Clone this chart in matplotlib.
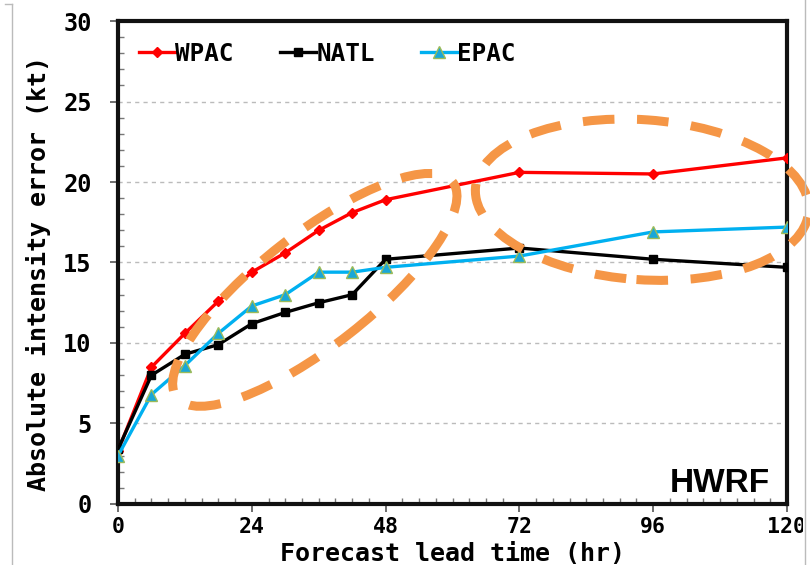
import matplotlib
matplotlib.use("Agg")
import matplotlib.pyplot as plt
from matplotlib.patches import Ellipse
from matplotlib.transforms import ScaledTranslation, Bbox
from matplotlib.ticker import MultipleLocator

# Forecast lead times (hr) and mean absolute intensity errors (kt)
lead_time = [0, 6, 12, 18, 24, 30, 36, 42, 48, 72, 96, 120]
wpac = [3.3, 8.5, 10.6, 12.6, 14.4, 15.6, 17.0, 18.1, 18.9, 20.6, 20.5, 21.5]
natl = [3.4, 8.0, 9.3, 9.9, 11.2, 11.9, 12.5, 13.0, 15.2, 15.9, 15.2, 14.7]
epac = [3.0, 6.8, 8.6, 10.6, 12.3, 13.0, 14.4, 14.4, 14.7, 15.4, 16.9, 17.2]

x_ticks = [0, 24, 48, 72, 96, 120]
y_ticks = [0, 5, 10, 15, 20, 25, 30]

mono = "DejaVu Sans Mono"

fig = plt.figure(figsize=(8.1, 5.65), dpi=100)
ax = fig.add_axes([0.1457, 0.108, 0.8259, 0.8548])

ax.plot(lead_time, wpac, color="#FF0000", lw=2.4, marker="D", ms=5.5,
        mfc="#FF0000", mec="#FF0000", label="WPAC", zorder=4)
ax.plot(lead_time, natl, color="#000000", lw=2.4, marker="s", ms=5.5,
        mfc="#000000", mec="#000000", label="NATL", zorder=4)
ax.plot(lead_time, epac, color="#00B0F0", lw=2.4, marker="^", ms=8,
        mfc="#1AA7D8", mec="#9BBB59", mew=1.0, label="EPAC", zorder=4)

ax.set_xlim(0, 120)
ax.set_ylim(0, 30)
ax.set_xticks(x_ticks)
ax.set_yticks(y_ticks)
ax.xaxis.set_minor_locator(MultipleLocator(3))
ax.yaxis.set_minor_locator(MultipleLocator(1))

ax.tick_params(axis="both", which="major", direction="out", length=6,
               width=1.2, color="#555555", labelsize=17)
ax.tick_params(axis="x", which="major", labelsize=15.5, pad=3.5)
ax.tick_params(axis="y", which="major", pad=13)
ax.tick_params(axis="both", which="minor", direction="in", length=4,
               width=1.0, color="#777777")
for lab in ax.get_xticklabels() + ax.get_yticklabels():
    lab.set_fontfamily(mono)
    lab.set_fontweight("bold")

# horizontal dashed grid
for yv in y_ticks[1:-1]:
    ax.axhline(yv, color="#BBBBBB", lw=1.0, ls=(0, (3, 3)), zorder=1)

for sp in ax.spines.values():
    sp.set_linewidth(3.0)
    sp.set_color("#111111")

ax.set_xlabel("Forecast lead time (hr)", fontsize=18, fontfamily=mono,
              fontweight="bold")
ax.xaxis.label.set_va("baseline")
ax.xaxis.set_label_coords(0.5, -0.119)
ax.set_ylabel("Absolute intensity error (kt)", fontsize=18, fontfamily=mono,
              fontweight="bold")
ax.yaxis.label.set_va("center")
ax.yaxis.set_label_coords(-0.119, 0.478)

leg = ax.legend(loc="upper left", ncol=3, frameon=False,
                prop={"family": mono, "weight": "bold", "size": 17.5},
                handlelength=1.5, handletextpad=0.0, columnspacing=1.9,
                bbox_to_anchor=(0.0, 1.0), borderaxespad=0.45)

ax.text(0.975, 0.025, "HWRF", transform=ax.transAxes, ha="right",
        va="baseline", fontsize=24, fontweight="bold",
        fontfamily="Liberation Sans")

# Dashed orange ellipses (sizes in pixels, centres in data units)
orange = "#F59646"
ellipses = [
    # (centre hr, centre kt, width px, height px, angle deg)
    (35.3, 13.3, 350, 112, 38),
    (94.0, 18.9, 334, 160, -4),
]
for cx, cy, w, h, ang in ellipses:
    e = Ellipse((0, 0), w, h, angle=ang, fill=False, ec=orange, lw=6.5,
                ls=(0, (3.5, 2.5)), capstyle="butt",
                transform=ScaledTranslation(cx, cy, ax.transData),
                clip_on=False, zorder=5)
    ax.add_patch(e)

# clip the tick labels at the picture border line
fig.canvas.draw()
clip = Bbox.from_extents(0, 0, 803, 565)
for lab in ax.get_xticklabels():
    lab.set_clip_box(clip)
    lab.set_clip_on(True)

# thin grey border lines of the panel
fig.add_artist(plt.Line2D([12 / 810, 12 / 810], [0, 1 - 4 / 565],
                          transform=fig.transFigure, color="#BBBBBB", lw=1.0))
fig.add_artist(plt.Line2D([5 / 810, 12 / 810], [1 - 4 / 565, 1 - 4 / 565],
                          transform=fig.transFigure, color="#BBBBBB", lw=1.0))
fig.add_artist(plt.Line2D([804.5 / 810, 804.5 / 810], [0, 1],
                          transform=fig.transFigure, color="#BBBBBB", lw=1.0))

fig.savefig("out.png", dpi=100)
